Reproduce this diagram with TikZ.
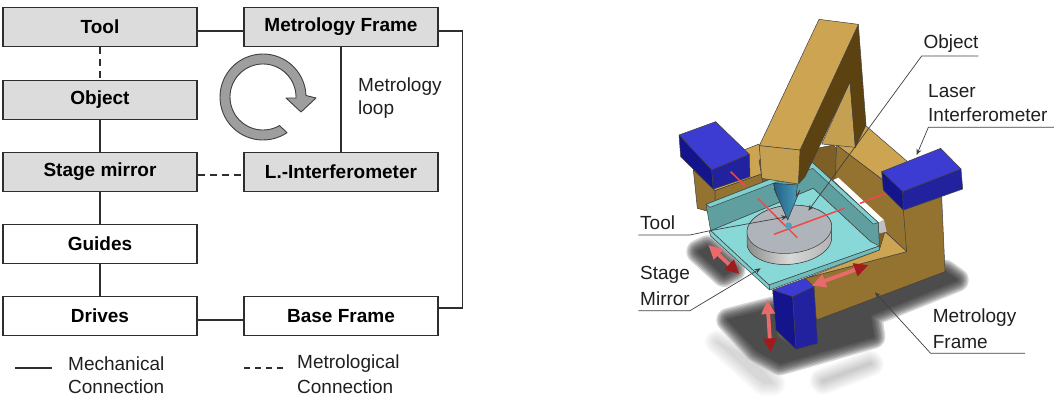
\documentclass[tikz,border=0pt]{standalone}
\usepackage{fontspec}
\setmainfont{Liberation Sans}
\usetikzlibrary{arrows.meta}
\definecolor{boxgray}{HTML}{DCDCDC}
\definecolor{ln}{HTML}{2E2E2E}
\definecolor{goldlt}{HTML}{CDA552}
\definecolor{goldmd}{HTML}{C4A050}
\definecolor{golddk}{HTML}{5C4210}
\definecolor{goldsd}{HTML}{94722F}
\definecolor{goldin}{HTML}{7E6026}
\definecolor{blueT}{HTML}{3C3CD2}
\definecolor{blueL}{HTML}{14148C}
\definecolor{blueF}{HTML}{22229E}
\definecolor{cyanF}{HTML}{88D8D8}
\definecolor{cyanW}{HTML}{5F9F9F}
\definecolor{cyanR}{HTML}{7FCFCF}
\definecolor{cyanE}{HTML}{6FBDBD}
\definecolor{redL}{HTML}{F04848}
\definecolor{redS}{HTML}{E86A6A}
\definecolor{redD}{HTML}{A01C1C}
\definecolor{diskT}{HTML}{AEB4BA}
\definecolor{toolA}{HTML}{1E5F85}
\definecolor{toolB}{HTML}{4FA0BE}
\definecolor{shad}{HTML}{303030}
\newcommand{\softpoly}[2][.2]{\foreach \w in {24,21,18,15,12,9,6,3,1}{\begin{scope}[transparency group,opacity=#1]\filldraw[fill=shad,draw=shad,line join=round,line width=\w pt] #2;\end{scope}}}
\tikzset{
  blk/.style={draw=ln,line width=1.4pt,minimum width=194pt,minimum height=39pt,inner sep=0pt,font=\fontsize{19}{19}\selectfont\bfseries},
  grayblk/.style={blk,fill=boxgray},
  whiteblk/.style={blk,fill=white},
  conn/.style={draw=ln,line width=1.3pt},
  metro/.style={conn,dash pattern=on 7pt off 5pt},
  lbl/.style={anchor=west,inner sep=0pt,font=\fontsize{19}{19}\selectfont,text=black!88},
  edge3d/.style={draw=black!75,line width=.5pt,line join=round},
  leader/.style={draw=black!75,line width=.7pt},
  leadtip/.style={leader,-{Stealth[length=6pt,width=5pt]}},
  beam/.style={draw=redL,line width=1.5pt},
  dbl/.style={draw=redS,line width=3.8pt,{Triangle[length=14pt,width=13pt,fill=redS,color=redS]}-{Triangle[length=14pt,width=13pt,fill=redD,color=redD]}},
}
\begin{document}
\begin{tikzpicture}[x=1pt,y=-1pt]
\useasboundingbox (0,0) rectangle (1054,400);
% ---- left block diagram
\node[grayblk] (tool) at (100,27) {Tool};
\node[grayblk] (mf) at (341,27) {Metrology Frame};
\node[grayblk] (obj) at (100,100) {Object};
\node[grayblk] (sm) at (100,172) {Stage mirror};
\node[grayblk] (li) at (341,172) {L.-Interferometer};
\node[whiteblk] (gd) at (100,244) {Guides};
\node[whiteblk] (dr) at (100,316) {Drives};
\node[whiteblk] (bf) at (341,316) {Base Frame};
\draw[conn] ([yshift=-4pt]tool.east) -- ([yshift=-4pt]mf.west);
\draw[metro] (tool) -- (obj);
\draw[conn] (obj) -- (sm);
\draw[conn] (sm) -- (gd);
\draw[conn] (gd) -- (dr);
\draw[conn] (mf) -- (li);
\draw[metro] ([yshift=-3pt]sm.east) -- ([yshift=-3pt]li.west);
\draw[conn] ([yshift=-4pt]dr.east) -- ([yshift=-4pt]bf.west);
\draw[conn] ([yshift=-4pt]mf.east) -| ([yshift=8pt,xshift=24pt]bf.east) -- ([yshift=8pt]bf.east);
% loop arrow
\draw[fill=black!38,draw=black!75,line width=.9pt,line join=round]
  plot[domain=56:358,samples=60] ({263+43*cos(\x)},{97+43*sin(\x)})
  -- (316,98) -- (301,112) -- (286,98) -- (296,98)
  -- plot[domain=358:60,samples=60] ({263+33*cos(\x)},{97+33*sin(\x)}) -- cycle;
\node[lbl] (ml1) at (358,87) {Metrology};
\node[lbl] (ml2) at (358,110) {loop};
% legend
\coordinate (la) at (15,368); \coordinate (lb) at (52,368);
\coordinate (lc) at (244,368); \coordinate (ld) at (283,368);
\draw[conn] (la) -- (lb);
\draw[metro,dash pattern=on 6pt off 5pt] (lc) -- (ld);
\node[lbl] (l1) at (68,364) {Mechanical};
\node[lbl] (l2) at (68,387) {Connection};
\node[lbl] (l3) at (297,364) {Metrological};
\node[lbl] (l4) at (297,387) {Connection};
% ---- right 3D figure, coordinates in 3x units
\begin{scope}[xshift=620pt,x=.33333pt,y=-.33333pt]
% shadows
\softpoly{(235,755)--(262,742)--(340,810)--(312,825)--cycle}
\softpoly{(325,960)--(460,925)--(470,1010)--(530,1050)--(595,1030)--(590,960)--(975,815)--(1010,840)--(750,945)--(760,1010)--(480,1090)--(410,1050)--cycle}
\softpoly[.03]{(605,1142)--(750,1088)--(755,1092)--(610,1147)--cycle}
\softpoly[.025]{(290,1025)--(400,1080)--(460,1150)--(430,1150)--cycle}
% back-left wall
\filldraw[edge3d,fill=goldlt] (220,510)--(417,432)--(430,520)--(285,572)--cycle;
\filldraw[edge3d,fill=goldsd] (220,510)--(285,572)--(285,640)--(232,625)--cycle;
\filldraw[edge3d,fill=goldsd] (285,572)--(430,520)--(470,560)--(285,640)--cycle;
% interior under arm
\filldraw[edge3d,fill=goldin] (417,480)--(640,435)--(860,650)--(860,755)--(600,760)--(430,560)--cycle;
% right wing top face
\filldraw[edge3d,fill=goldlt] (735,375)--(880,500)--(795,545)--(650,435)--cycle;
\filldraw[edge3d,fill=goldsd] (650,435)--(795,545)--(860,630)--(860,755)--(790,690)--(645,540)--cycle;
% big lower face and ledge
\filldraw[edge3d,fill=goldsd] (965,590)--(975,815)--(590,960)--(555,835)--(860,755)--(850,630)--cycle;
\filldraw[edge3d,fill=goldlt] (860,755)--(795,695)--(778,750)--(555,835)--cycle;
% white gap
\fill[white] (640,540)--(655,533)--(792,660)--(775,668)--cycle;
\fill[black!25] (775,668)--(792,660)--(800,695)--(778,700)--cycle;
% stage walls
\filldraw[edge3d,fill=cyanW] (258,613)--(578,488)--(775,668)--(778,740)--(752,725)--(580,565)--(272,692)--cycle;
\filldraw[edge3d,fill=cyanR] (258,613)--(578,488)--(775,668)--(760,672)--(578,505)--(270,622)--cycle;
% arm
\filldraw[edge3d,fill=goldmd] (690,245)--(706,442)--(605,432)--cycle;
\filldraw[edge3d,fill=golddk] (715,73)--(738,375)--(706,442)--(690,245)--(555,530)--(535,552)--(540,450)--cycle;
\filldraw[edge3d,fill=goldlt] (597,58)--(715,73)--(540,450)--(418,437)--cycle;
\filldraw[edge3d,fill=goldmd] (418,437)--(540,450)--(535,552)--(425,535)--cycle;
% stage floor
\filldraw[edge3d,fill=cyanF] (272,692)--(580,565)--(752,725)--(778,738)--(447,855)--cycle;
\filldraw[edge3d,fill=cyanE] (447,855)--(778,738)--(778,750)--(449,870)--cycle;
\filldraw[edge3d,fill=cyanR] (268,695)--(272,692)--(447,855)--(449,870)--(272,708)--cycle;
% disk
\filldraw[edge3d,left color=black!45,right color=black!30,middle color=black!15]
  plot[domain=0:180,samples=50] ({508+127*cos(\x)},{721+72*sin(\x)-8*cos(\x)})
  -- plot[domain=180:360,samples=50] ({508+127*cos(\x)},{688+72*sin(\x)-8*cos(\x)}) -- cycle;
\filldraw[edge3d,fill=diskT]
  plot[domain=0:360,samples=90] ({508+127*cos(\x)},{688+72*sin(\x)-8*cos(\x)}) -- cycle;
% beams on the disk
\draw[beam] (413,595) -- (532,713);
\draw[beam] (462,703) -- (673,625);
% tool
\filldraw[edge3d,left color=toolA,right color=toolB] (460,550)--(532,555)--(528,590)--(540,570)--(503,660)--(462,565)--(472,590)--cycle;
\fill[toolB] (506,677) circle[radius=10];
% blue blocks
\filldraw[edge3d,fill=blueT] (177,405)--(287,365)--(388,463)--(275,510)--cycle;
\filldraw[edge3d,fill=blueL] (177,405)--(275,510)--(280,567)--(182,470)--cycle;
\filldraw[edge3d,fill=blueF] (275,510)--(388,463)--(390,530)--(280,567)--cycle;
\draw[beam] (332,515) -- (378,560);
\draw[beam] (720,610) -- (818,572);
\filldraw[edge3d,fill=blueT] (785,515)--(962,445)--(1023,507)--(848,575)--cycle;
\filldraw[edge3d,fill=blueL] (785,515)--(848,575)--(850,630)--(790,570)--cycle;
\filldraw[edge3d,fill=blueF] (848,575)--(1023,507)--(1028,567)--(850,630)--cycle;
\filldraw[edge3d,fill=blueT] (458,870)--(555,835)--(582,860)--(518,890)--cycle;
\filldraw[edge3d,fill=blueL] (458,870)--(518,890)--(528,1048)--(468,990)--cycle;
\filldraw[edge3d,fill=blueF] (518,890)--(582,860)--(593,1030)--(528,1048)--cycle;
% red motion arrows
\coordinate (a1) at (265,735); \coordinate (a2) at (358,822);
\coordinate (b1) at (575,857); \coordinate (b2) at (745,795);
\coordinate (c1) at (442,900); \coordinate (c2) at (452,1057);
\draw[dbl] (a1) -- (a2);
\draw[dbl] (b1) -- (b2);
\draw[dbl] (c1) -- (c2);
% leaders
\coordinate (oa) at (1075,168); \coordinate (ob) at (905,168); \coordinate (oc) at (565,632);
\draw[leadtip] (oa) -- (ob) -- (oc);
\coordinate (ia) at (1302,382); \coordinate (ib) at (925,382); \coordinate (ic) at (890,465);
\draw[leadtip] (ia) -- (ib) -- (ic);
\coordinate (ta) at (55,705); \coordinate (tb) at (210,705); \coordinate (tc) at (270,692); \coordinate (td) at (502,650);
\draw[leadtip] (ta) -- (tb) -- (tc) -- (td);
\coordinate (sa) at (55,932); \coordinate (sb) at (210,932); \coordinate (sc) at (422,805);
\draw[leadtip] (sa) -- (sb) -- (sc);
\coordinate (fa) at (1215,1060); \coordinate (fb) at (932,1060); \coordinate (fc) at (765,877);
\draw[leadtip] (fa) -- (fb) -- (fc);
% labels
\node[lbl] (t1) at (910,130) {Object};
\node[lbl] (t2) at (924,273) {Laser};
\node[lbl] (t3) at (924,345) {Interferometer};
\node[lbl] (t4) at (60,668) {Tool};
\node[lbl] (t5) at (60,825) {Stage};
\node[lbl] (t6) at (60,896) {Mirror};
\node[lbl] (t7) at (938,952) {Metrology};
\node[lbl] (t8) at (938,1025) {Frame};
\end{scope}
\end{tikzpicture}
\end{document}
